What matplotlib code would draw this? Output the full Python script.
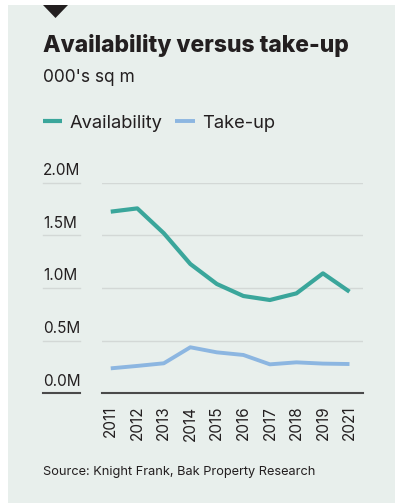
import matplotlib.pyplot as plt
import matplotlib.transforms as mtransforms
from matplotlib.patches import Polygon, Rectangle

W, H = 395, 504

years = ["2011", "2012", "2013", "2014", "2015", "2016", "2017", "2018", "2019", "2021"]
availability = [1.725, 1.756, 1.52, 1.228, 1.038, 0.924, 0.886, 0.949, 1.139, 0.965]
take_up = [0.237, 0.26, 0.285, 0.437, 0.389, 0.364, 0.275, 0.294, 0.282, 0.278]
y_ticks = [0.0, 0.5, 1.0, 1.5, 2.0]
y_labels = ["0.0M", "0.5M", "1.0M", "1.5M", "2.0M"]

TEXT = "#231f20"
PANEL = "#e8efec"
TEAL = "#3aa69b"
BLUE = "#8cb6e1"
GRID = "#d3d8d6"
AXIS = "#4a4a4a"

plt.rcParams["font.family"] = ["Inter", "DejaVu Sans"]


def fx(x):
    return x / W


def fy(y):
    return 1 - y / H


fig = plt.figure(figsize=(W / 100, H / 100), dpi=100, facecolor="white")

# background panel and marker triangle
fig.patches.append(Rectangle((fx(8), fy(503)), fx(395) - fx(8), fy(5) - fy(503),
                             transform=fig.transFigure, facecolor=PANEL, edgecolor="none", zorder=-10))
fig.patches.append(Polygon([(fx(43), fy(5)), (fx(68), fy(5)), (fx(55.5), fy(18))],
                           closed=True, transform=fig.transFigure, facecolor=TEXT, edgecolor="none"))

ax = fig.add_axes([fx(102), fy(393.3), fx(363) - fx(102), fy(182.7) - fy(393.3)])
ax.set_facecolor("none")

x = range(len(years))
line_a, = ax.plot(x, availability, color=TEAL, linewidth=3, solid_capstyle="butt", label="Availability", zorder=3)
line_t, = ax.plot(x, take_up, color=BLUE, linewidth=2.8, solid_capstyle="butt", label="Take-up", zorder=3)

ax.set_xlim(-0.33, 9.51)
ax.set_ylim(0, 2.0)
ax.set_xticks(list(x))
ax.set_xticklabels(years, rotation=90, fontsize=11, color=TEXT)
ax.tick_params(axis="x", length=0, pad=9)
ax.set_yticks(y_ticks)
ax.set_yticklabels([])
ax.tick_params(axis="y", length=0)
ax.grid(axis="y", color=GRID, linewidth=1)
for side in ["top", "right", "left"]:
    ax.spines[side].set_visible(False)
ax.spines["bottom"].set_color(AXIS)
ax.spines["bottom"].set_linewidth(1.5)

# y labels sit left of the plot, above a short rule
blend = mtransforms.blended_transform_factory(fig.transFigure, ax.transData)
for value, label in zip(y_ticks, y_labels):
    ax.annotate(label, xy=(fx(43), value), xycoords=blend, xytext=(0, 5.5), textcoords="offset points",
                ha="left", va="baseline", fontsize=11, color=TEXT, annotation_clip=False)
    ax.plot([fx(43), fx(80)], [value, value], transform=blend, clip_on=False,
            color=AXIS if value == 0 else GRID, linewidth=1.5 if value == 0 else 1)

fig.text(fx(43), fy(52), "Availability versus take-up", fontsize=16.5, fontweight="heavy",
         color=TEXT, ha="left", va="baseline")
fig.text(fx(43), fy(82.5), "000's sq m", fontsize=12.5, color=TEXT, ha="left", va="baseline")
fig.legend(handles=[line_a, line_t], loc="center left", bbox_to_anchor=(fx(43), fy(123)),
           ncol=2, frameon=False, fontsize=13.2, borderpad=0, borderaxespad=0,
           handlelength=1.05, handletextpad=0.4, columnspacing=0.7, labelcolor=TEXT)
fig.text(fx(43), fy(475), "Source: Knight Frank, Bak Property Research", fontsize=9.2,
         color=TEXT, ha="left", va="baseline")

fig.savefig("out.png", dpi=100, facecolor="white")
